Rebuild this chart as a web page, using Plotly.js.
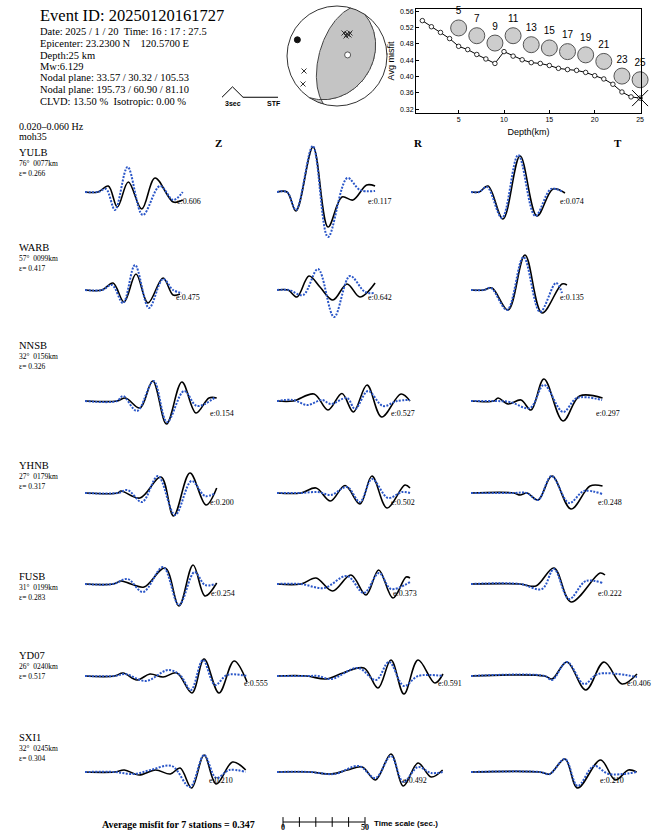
<!DOCTYPE html>
<html><head><meta charset="utf-8">
<script src="https://cdn.plot.ly/plotly-3.0.1.min.js"></script>
<style>html,body{margin:0;padding:0;background:#fff}#chart{width:652px;height:834px}</style>
</head><body><div id="chart"></div>
<script>
// ================= DATA =================
const eventId = '20250120161727';
const headerLines = [
  'Date: 2025 / 1 / 20  Time: 16 : 17 : 27.5',
  'Epicenter: 23.2300 N    120.5700 E',
  'Depth:25 km',
  'Mw:6.129',
  'Nodal plane: 33.57 / 30.32 / 105.53',
  'Nodal plane: 195.73 / 60.90 / 81.10',
  'CLVD: 13.50 %  Isotropic: 0.00 %'
];
const filterBand = '0.020\u20130.060 Hz';
const modelName = 'moh35';
const components = ['Z', 'R', 'T'];
const stations = ['YULB', 'WARB', 'NNSB', 'YHNB', 'FUSB', 'YD07', 'SXI1'];
const azimuths = ['76', '57', '32', '27', '31', '26', '32'];
const distances = ['0077', '0099', '0156', '0179', '0199', '0240', '0245'];
const stationMisfit = ['0.266', '0.417', '0.326', '0.317', '0.283', '0.517', '0.304'];
const misfitZ = ['0.606', '0.475', '0.154', '0.200', '0.254', '0.555', '0.210'];
const misfitR = ['0.117', '0.642', '0.527', '0.502', '0.373', '0.591', '0.492'];
const misfitT = ['0.074', '0.135', '0.297', '0.248', '0.222', '0.406', '0.210'];
const averageMisfit = '0.347';

// waveforms: [time (s), relative amplitude]  obs = black data, syn = blue synthetic
const YULB_Z_obs = [[0,0],[7.9,0],[14.2,6],[19.7,-15],[26.4,10],[34.6,-17],[42.7,14],[53.8,-10],[59.6,-8]];
const YULB_Z_syn = [[0,0],[7.9,0],[12.8,3],[18.3,-18],[26,25],[35.2,-23],[45.7,6],[53.8,-8],[59.6,0]];
const YULB_R_obs = [[0,0],[6.1,0],[11.6,-19],[22,45],[31.1,-35],[39.6,-5],[46.3,-8],[54.7,7],[59.8,6]];
const YULB_R_syn = [[0,0],[6.1,0],[11.6,-18],[21.8,46],[31.1,-45],[42.9,14],[50.6,2],[59.8,1]];
const YULB_T_obs = [[0,0],[4.9,0],[10.4,6],[19.5,-27],[29.9,36],[40.2,-24],[50,3],[57.3,-1]];
const YULB_T_syn = [[0,0],[4.9,0],[9.8,5],[18.9,-26],[28.8,37],[39.2,-24],[48.8,3],[56.1,0]];

const WARB_Z_obs = [[0,0],[10.4,0],[17.1,7],[23.8,-12],[31.1,16],[38.4,-13],[47.6,12],[53.7,-5],[57.9,-4]];
const WARB_Z_syn = [[0,0],[10.4,0],[16.5,5],[23.2,-13],[30.5,25],[39,-18],[47.6,11],[53.7,0],[59.1,-3]];
const WARB_R_obs = [[0,0],[6.7,0],[12.2,-7],[19.5,14],[26.2,3],[34.1,-10],[42.7,6],[50.6,-7],[59.8,7]];
const WARB_R_syn = [[0,0],[7.3,0],[15.9,-5],[25,21],[34.8,-27],[44.5,14],[53.7,-2],[59.8,-3]];
const WARB_T_obs = [[0,0],[7.9,0],[12.8,2],[22.6,-20],[32.9,35],[43.3,-23],[55.5,6],[58.5,5]];
const WARB_T_syn = [[0,0],[7.9,0],[12.2,2],[22,-20],[32,33],[42.1,-22],[51.8,7],[55.5,-3]];

const NNSB_Z_obs = [[0,0],[19.5,0],[24.7,3],[33.5,-7],[41.3,20],[49.7,-23],[59.1,19],[67.7,-12],[75.6,3],[80.3,3]];
const NNSB_Z_syn = [[0,0],[19.5,0],[23.2,5],[31.7,-10],[41.8,20],[50,-21],[60.4,10],[68.3,-5],[79.6,4]];
const NNSB_R_obs = [[0,0],[9.8,0],[22.6,7],[31.1,-9],[39.6,7.5],[46.6,-11],[54.9,16],[63.8,-16],[75.6,7],[81.1,0]];
const NNSB_R_syn = [[0,0],[9.8,1],[18.6,-4],[27.4,1],[32.9,-3],[42.7,3],[47.6,-8],[55.5,10],[64.6,-5],[73.2,0],[81.1,1]];
const NNSB_T_obs = [[0,0],[14,0],[16.5,3],[22.6,-3],[30.5,1],[36.6,-9],[44.5,22],[56.1,-20],[66.2,5],[80.2,3]];
const NNSB_T_syn = [[0,0],[14,0],[23.8,-1],[36,-7],[44.5,16],[56.1,-11],[64.6,3],[79.9,1]];

const YHNB_Z_obs = [[0,0],[20.1,0],[22,2],[33.5,-5],[46.3,16],[54,-23],[64,20],[73.8,-12],[80.3,5]];
const YHNB_Z_syn = [[0,0],[20.1,0],[26,3],[34.8,-9],[44.5,17],[54.9,-22],[65,12],[73.2,-3],[79.6,0]];
const YHNB_R_obs = [[0,0],[14.6,0],[23.8,5],[32.6,-8],[41.5,7.5],[50.6,-11],[57.9,17],[67.1,-15],[78,8],[81.1,5]];
const YHNB_R_syn = [[0,0],[14.6,0],[25,1],[32.9,-2],[42.7,6],[50.6,-9],[57.9,14],[67.7,-5],[76.2,1],[81.1,0]];
const YHNB_T_obs = [[0,0],[26.2,0],[29.9,-2],[34.1,0],[40.9,-7],[49.4,17],[61,-16],[72.6,7],[80.2,7]];
const YHNB_T_syn = [[0,0],[26.2,0],[34.1,0],[40.9,-7],[49.1,17],[59.8,-10],[68.9,2],[79.9,-1]];

const FUSB_Z_obs = [[0,0],[17.1,0],[22,3],[28,0],[36,-3],[48.8,16],[57.3,-22],[65.9,19],[73.2,-12],[80.3,1]];
const FUSB_Z_syn = [[0,0],[17.1,0],[26,5],[35.4,-8],[47.6,17],[57.3,-21],[66.8,12],[73.2,-1],[79.6,0]];
const FUSB_R_obs = [[0,0],[14.6,0],[23.8,6],[33.9,-7],[45.1,9],[54.3,-11],[62,14],[70.7,-14],[78.7,7],[81.1,6]];
const FUSB_R_syn = [[0,0],[14.6,0],[28.7,-4],[42.7,8],[53,-9],[62.2,11],[69.5,-5],[81.1,2]];
const FUSB_T_obs = [[0,0],[29.9,0],[39.6,-2],[50.6,16],[61,-18],[78.7,11],[81.7,9]];
const FUSB_T_syn = [[0,0],[29.9,0],[43.3,-5],[50.6,15],[59.8,-15],[70,3],[80.2,1]];

const YD07_Z_obs = [[0,0],[18,0],[23.2,3],[31.7,-4],[39.6,2],[47.6,-1],[56,3],[65.2,-17],[72.6,17],[81.7,-17],[90.9,15],[98.8,-6]];
const YD07_Z_syn = [[0,0],[18,0],[24.4,2],[37.2,-5],[50.6,6],[57.9,1],[64.6,-14],[71.9,16],[79.3,-9],[86.6,1],[98.8,0]];
const YD07_R_obs = [[0,0],[18,0],[29.9,-3],[40.2,3],[53,8],[61.6,-12],[69.5,16],[77.4,-18],[86,16],[96.3,-7],[101.2,2]];
const YD07_R_syn = [[0,0],[18,0],[25,0],[33,-3],[49.4,8],[60.4,-4],[68.3,14],[77.4,-10],[86,0],[101.2,0]];
const YD07_T_obs = [[0,0],[45,0],[49.4,-3],[58.5,14],[70,-14],[81.1,14],[92.1,-8],[101.2,2]];
const YD07_T_syn = [[0,0],[45,0],[49.4,-4],[58.5,14],[68.9,-8],[77.4,2],[101.2,-1]];

const SXI1_Z_obs = [[0,0],[18,0],[24,2],[33,-3],[43,2],[52,-2],[58,4],[65,-16],[72.6,17],[80,-12],[90,10],[98,2]];
const SXI1_Z_syn = [[0,0],[18,0],[30,-2],[40,2],[53,6],[64,-15],[72.6,17],[80,-6],[88,2],[98,0]];
const SXI1_R_obs = [[0,0],[20,0],[33,-2],[43,2],[52,5],[60,-8],[69.5,18],[77,-14],[86,9],[94,-5],[101,2]];
const SXI1_R_syn = [[0,0],[20,0],[35,-2],[50,6],[60,-6],[69.5,16],[77,-10],[86,5],[94,-1],[101,0]];
const SXI1_T_obs = [[0,0],[42,0],[48,-2],[57.3,13],[65,-16],[79,12],[88,-8],[96,2],[101,0]];
const SXI1_T_syn = [[0,0],[42,0],[48,-2],[57.3,13],[65,-14],[75,6],[84,-2],[101,0]];

// depth search
const depths = [1,2,3,4,5,6,7,8,9,10,11,12,13,14,15,16,17,18,19,20,21,22,23,24,25];
const avgMisfit = [0.537,0.522,0.508,0.493,0.474,0.466,0.454,0.443,0.432,0.461,0.450,0.441,0.434,0.432,0.427,0.420,0.417,0.415,0.410,0.402,0.394,0.381,0.362,0.350,0.347];
const ballDepths = [5,7,9,11,13,15,17,19,21,23,25];
const ballLevels = [0.519,0.500,0.482,0.500,0.478,0.470,0.461,0.453,0.437,0.401,0.392];
const bestDepth = 25;
const bestMisfit = 0.347;

// focal mechanism
const strike1 = 33.57, dip1 = 30.32, rake1 = 105.53;
const strike2 = 195.73, dip2 = 60.90;
// station marks on the focal sphere (unit-circle coords)
const staBallX = [0.14, 0.20, 0.24, 0.18, 0.26, -0.66, -0.68];
const staBallY = [0.46, 0.44, 0.42, 0.40, 0.46, -0.30, -0.56];

const stfTime = [0, 1.5, 3, 8];
const stfAmp = [0, 1, 0, 0];
const scaleTicks = [0, 10, 20, 30, 40, 50];

// ================= DRAWING =================
const W = 652, H = 834;
const serif = '"Liberation Serif", "Times New Roman", serif';
const sans = '"Liberation Sans", Arial, sans-serif';
const PXS = 1.64;              // pixels per second (from time scale bar)
const colX0 = [85, 277, 471];
const rowBase = [192, 290, 401, 493, 584, 676, 772];
const panelW = 180, panelH = 100;
// e-label placement (left x, centre y) per row / column, in page pixels
const eLabX = [[175, 366, 558], [174, 366, 558], [208, 389, 594], [208, 389, 596], [209, 391, 596], [242, 436, 625], [207, 401, 598]];
const eLabY = [201, 297, 413, 502, 593, 683, 780];
const labelY = [152, 247, 345, 465, 576, 655, 737];

const traces = [];
const layout = {
  width: W, height: H, margin: {l: 0, r: 0, t: 0, b: 0},
  paper_bgcolor: '#ffffff', plot_bgcolor: 'rgba(0,0,0,0)', showlegend: false,
  annotations: [], shapes: []
};
let axisCount = 0;
function newAxes(xPx, yPx, xRange, yRange, ex, ey) {
  axisCount++;
  const k = axisCount === 1 ? '' : String(axisCount);
  layout['xaxis' + k] = Object.assign({domain: [xPx[0] / W, xPx[1] / W], range: xRange, anchor: 'y' + k,
    visible: false, fixedrange: true, showgrid: false, zeroline: false}, ex || {});
  layout['yaxis' + k] = Object.assign({domain: [1 - yPx[1] / H, 1 - yPx[0] / H], range: yRange, anchor: 'x' + k,
    visible: false, fixedrange: true, showgrid: false, zeroline: false}, ey || {});
  return {x: 'x' + k, y: 'y' + k};
}
function txt(x, y, text, size, opts) {
  layout.annotations.push(Object.assign({xref: 'paper', yref: 'paper', x: x / W, y: 1 - y / H, text: text,
    showarrow: false, xanchor: 'left', yanchor: 'middle', font: {family: serif, size: size, color: '#000'}}, opts || {}));
}
const nb = s => s.replace(/ /g, '\u00a0');

const waveSets = {
  YULB: [[YULB_Z_obs, YULB_Z_syn], [YULB_R_obs, YULB_R_syn], [YULB_T_obs, YULB_T_syn]],
  WARB: [[WARB_Z_obs, WARB_Z_syn], [WARB_R_obs, WARB_R_syn], [WARB_T_obs, WARB_T_syn]],
  NNSB: [[NNSB_Z_obs, NNSB_Z_syn], [NNSB_R_obs, NNSB_R_syn], [NNSB_T_obs, NNSB_T_syn]],
  YHNB: [[YHNB_Z_obs, YHNB_Z_syn], [YHNB_R_obs, YHNB_R_syn], [YHNB_T_obs, YHNB_T_syn]],
  FUSB: [[FUSB_Z_obs, FUSB_Z_syn], [FUSB_R_obs, FUSB_R_syn], [FUSB_T_obs, FUSB_T_syn]],
  YD07: [[YD07_Z_obs, YD07_Z_syn], [YD07_R_obs, YD07_R_syn], [YD07_T_obs, YD07_T_syn]],
  SXI1: [[SXI1_Z_obs, SXI1_Z_syn], [SXI1_R_obs, SXI1_R_syn], [SXI1_T_obs, SXI1_T_syn]]
};
const compMisfit = [misfitZ, misfitR, misfitT];

stations.forEach((st, i) => {
  for (let j = 0; j < 3; j++) {
    const ax = newAxes([colX0[j], colX0[j] + panelW], [rowBase[i] - panelH / 2, rowBase[i] + panelH / 2],
      [0, panelW / PXS], [-panelH / 2, panelH / 2]);
    const [obs, syn] = waveSets[st][j];
    traces.push({x: obs.map(p => p[0]), y: obs.map(p => p[1]), xaxis: ax.x, yaxis: ax.y, mode: 'lines',
      line: {color: '#000', width: 1.6, shape: 'spline', smoothing: 1}, hoverinfo: 'skip'});
    traces.push({x: syn.map(p => p[0]), y: syn.map(p => p[1]), xaxis: ax.x, yaxis: ax.y, mode: 'lines',
      line: {color: '#2a56c8', width: 2, dash: '2px,1.4px', shape: 'spline', smoothing: 1}, hoverinfo: 'skip'});
    txt(eLabX[i][j], eLabY[i], 'e:' + compMisfit[j][i], 8);
  }
});

// ---- depth-misfit chart ----
const mAx = newAxes([416, 641], [9, 113], [0.3, 25.1], [0.3105, 0.5655],
  {visible: true, showline: true, mirror: true, linecolor: '#000', linewidth: 1, ticks: 'inside', ticklen: 3,
   tickcolor: '#000', tickvals: [5, 10, 15, 20, 25], tickfont: {family: sans, size: 7, color: '#000'},
   title: {text: 'Depth(km)', font: {family: sans, size: 9, color: '#000'}, standoff: 6}},
  {visible: true, showline: true, mirror: true, linecolor: '#000', linewidth: 1, ticks: 'inside', ticklen: 3,
   tickcolor: '#000', tickvals: [0.32, 0.36, 0.40, 0.44, 0.48, 0.52, 0.56],
   ticktext: ['0.32', '0.36', '0.40', '0.44', '0.48', '0.52', '0.56'], tickfont: {family: sans, size: 7, color: '#000'},
   title: {text: 'Avg misfit', font: {family: sans, size: 9, color: '#000'}, standoff: 3}});
traces.push({x: depths, y: avgMisfit, xaxis: mAx.x, yaxis: mAx.y, mode: 'lines+markers', cliponaxis: false,
  line: {color: '#000', width: 1}, marker: {symbol: 'circle', size: 4.5, color: '#fff', line: {color: '#000', width: 0.8}},
  hoverinfo: 'skip'});
traces.push({x: ballDepths, y: ballLevels, xaxis: mAx.x, yaxis: mAx.y, mode: 'markers+text', cliponaxis: false,
  text: ballDepths.map(String), textposition: 'top center', textfont: {family: sans, size: 10, color: '#000'},
  marker: {symbol: 'circle', size: 16, color: '#cdcdcd', line: {color: '#555', width: 1}}, hoverinfo: 'skip'});
traces.push({x: [bestDepth], y: [bestMisfit], xaxis: mAx.x, yaxis: mAx.y, mode: 'markers', cliponaxis: false,
  marker: {symbol: 'x-thin-open', size: 16, color: '#000', line: {color: '#000', width: 1}}, hoverinfo: 'skip'});

// ---- beachball ----
const D2R = Math.PI / 180;
const bb = newAxes([285, 389], [4, 108], [-1.04, 1.04], [-1.04, 1.04]);
function faultVec(s, d, r) {
  const S = s * D2R, Dd = d * D2R, R = r * D2R;
  const n = [-Math.sin(Dd) * Math.sin(S), Math.sin(Dd) * Math.cos(S), -Math.cos(Dd)];
  const u = [Math.cos(R) * Math.cos(S) + Math.sin(R) * Math.cos(Dd) * Math.sin(S),
             Math.cos(R) * Math.sin(S) - Math.sin(R) * Math.cos(Dd) * Math.cos(S),
             -Math.sin(R) * Math.sin(Dd)];
  return {n, u};
}
function project(v) { // lower hemisphere equal-area, v = [N,E,D]
  let [N, E, Dn] = v; if (Dn < 0) { N = -N; E = -E; Dn = -Dn; }
  const len = Math.hypot(N, E, Dn); N /= len; E /= len; Dn /= len;
  const th = Math.acos(Math.min(1, Dn)); const r = Math.SQRT2 * Math.sin(th / 2);
  const az = Math.atan2(E, N);
  return [r * Math.sin(az), r * Math.cos(az)];
}
const fv = faultVec(strike1, dip1, rake1);
const NG = 161, gx = [], gz = [];
for (let i = 0; i < NG; i++) gx.push(-1 + 2 * i / (NG - 1));
for (let iy = 0; iy < NG; iy++) {
  const row = [];
  for (let ix = 0; ix < NG; ix++) {
    const x = gx[ix], y = gx[iy], r = Math.hypot(x, y);
    if (r > 1) { row.push(null); continue; }
    const th = 2 * Math.asin(r / Math.SQRT2), az = Math.atan2(x, y);
    const v = [Math.sin(th) * Math.cos(az), Math.sin(th) * Math.sin(az), Math.cos(th)];
    const a = (fv.n[0]*v[0] + fv.n[1]*v[1] + fv.n[2]*v[2]) * (fv.u[0]*v[0] + fv.u[1]*v[1] + fv.u[2]*v[2]);
    row.push(a > 0 ? 1 : 0);
  }
  gz.push(row);
}
traces.push({type: 'heatmap', x: gx, y: gx, z: gz, xaxis: bb.x, yaxis: bb.y, zmin: 0, zmax: 1,
  colorscale: [[0, '#ffffff'], [1, '#c4c4c4']], showscale: false, hoverinfo: 'skip'});
[[strike1, dip1], [strike2, dip2]].forEach(([s, d]) => {
  const S = s * D2R, Dd = d * D2R, xs = [], ys = [];
  for (let t = 0; t <= 180; t += 2) {
    const T = t * D2R;
    const v = [Math.cos(T) * Math.cos(S) - Math.sin(T) * Math.sin(S) * Math.cos(Dd),
               Math.cos(T) * Math.sin(S) + Math.sin(T) * Math.cos(S) * Math.cos(Dd),
               Math.sin(T) * Math.sin(Dd) + 1e-9];
    const p = project(v); xs.push(p[0]); ys.push(p[1]);
  }
  traces.push({x: xs, y: ys, xaxis: bb.x, yaxis: bb.y, mode: 'lines', line: {color: '#333', width: 0.9}, hoverinfo: 'skip'});
});
layout.shapes.push({type: 'circle', xref: bb.x, yref: bb.y, x0: -1, y0: -1, x1: 1, y1: 1, line: {color: '#333', width: 1}});
const s2 = Math.SQRT1_2;
const Pax = project([(fv.n[0] - fv.u[0]) * s2, (fv.n[1] - fv.u[1]) * s2, (fv.n[2] - fv.u[2]) * s2]);
const Tax = project([(fv.n[0] + fv.u[0]) * s2, (fv.n[1] + fv.u[1]) * s2, (fv.n[2] + fv.u[2]) * s2]);
traces.push({x: [Pax[0]], y: [Pax[1]], xaxis: bb.x, yaxis: bb.y, mode: 'markers',
  marker: {size: 6, color: '#111', line: {color: '#111', width: 1}}, hoverinfo: 'skip'});
traces.push({x: [Tax[0]], y: [Tax[1]], xaxis: bb.x, yaxis: bb.y, mode: 'markers',
  marker: {size: 6, color: '#fff', line: {color: '#333', width: 0.8}}, hoverinfo: 'skip'});
traces.push({x: staBallX, y: staBallY, xaxis: bb.x, yaxis: bb.y, mode: 'markers',
  marker: {symbol: 'x-thin-open', size: 5, color: '#333', line: {color: '#333', width: 1}}, hoverinfo: 'skip'});

// ---- STF ----
const stf = newAxes([222, 278], [86, 98.5], [0, 8], [-0.12, 1.08]);
traces.push({x: stfTime, y: stfAmp, xaxis: stf.x, yaxis: stf.y, mode: 'lines', line: {color: '#000', width: 1}, hoverinfo: 'skip'});
txt(223, 103.5, '3sec', 7, {font: {family: sans, size: 7, color: '#000', weight: 'bold'}});
txt(265, 103.5, 'STF', 7, {font: {family: sans, size: 7, color: '#000', weight: 'bold'}});

// ---- time scale bar ----
const ts = newAxes([283, 365], [816, 828], [0, 50], [-1, 1]);
traces.push({x: [scaleTicks[0], scaleTicks[scaleTicks.length - 1]], y: [0, 0], xaxis: ts.x, yaxis: ts.y, mode: 'lines',
  line: {color: '#000', width: 1}, cliponaxis: false, hoverinfo: 'skip'});
traces.push({x: scaleTicks, y: scaleTicks.map(() => 0), xaxis: ts.x, yaxis: ts.y, mode: 'markers', cliponaxis: false,
  marker: {symbol: 'line-ns', size: 7, line: {color: '#000', width: 1}}, hoverinfo: 'skip'});
layout.annotations.push({xref: ts.x, yref: 'paper', x: 0, y: 0, yanchor: 'bottom', xanchor: 'center', text: '0',
  showarrow: false, font: {family: serif, size: 8, color: '#000', weight: 'bold'}});
layout.annotations.push({xref: ts.x, yref: 'paper', x: 50, y: 0, yanchor: 'bottom', xanchor: 'center', text: '50',
  showarrow: false, font: {family: serif, size: 8, color: '#000', weight: 'bold'}});
txt(372, 823, 'Time scale (sec.)', 8, {font: {family: sans, size: 8, color: '#000', weight: 'bold'}});
txt(100, 824, 'Average misfit for ' + stations.length + ' stations = ' + averageMisfit, 10,
  {font: {family: serif, size: 10, color: '#000', weight: 'bold'}});

// ---- header text ----
txt(38, 15, 'Event ID: ' + eventId, 16.5);
headerLines.forEach((s, i) => txt(38, 32 + 11.5 * i, nb(s), 10.5));
txt(17, 127, nb(filterBand), 10);
txt(17, 137, modelName, 10);
const colHeadX = [218, 418, 618];
components.forEach((c, j) => txt(colHeadX[j], 143, c, 11, {xanchor: 'center', font: {family: serif, size: 11, color: '#000', weight: 'bold'}}));
stations.forEach((st, i) => {
  const t = '<span style="font-size:10.5px">' + st + '</span><br>' +
            nb(azimuths[i] + '\u00b0  ' + distances[i] + 'km') + '<br>' + nb('\u03b5= ' + stationMisfit[i]);
  txt(17, labelY[i] - 7, t, 7.5, {yanchor: 'top', align: 'left'});
});

Plotly.newPlot('chart', traces, layout, {displayModeBar: false, staticPlot: true});
</script>
</body></html>
